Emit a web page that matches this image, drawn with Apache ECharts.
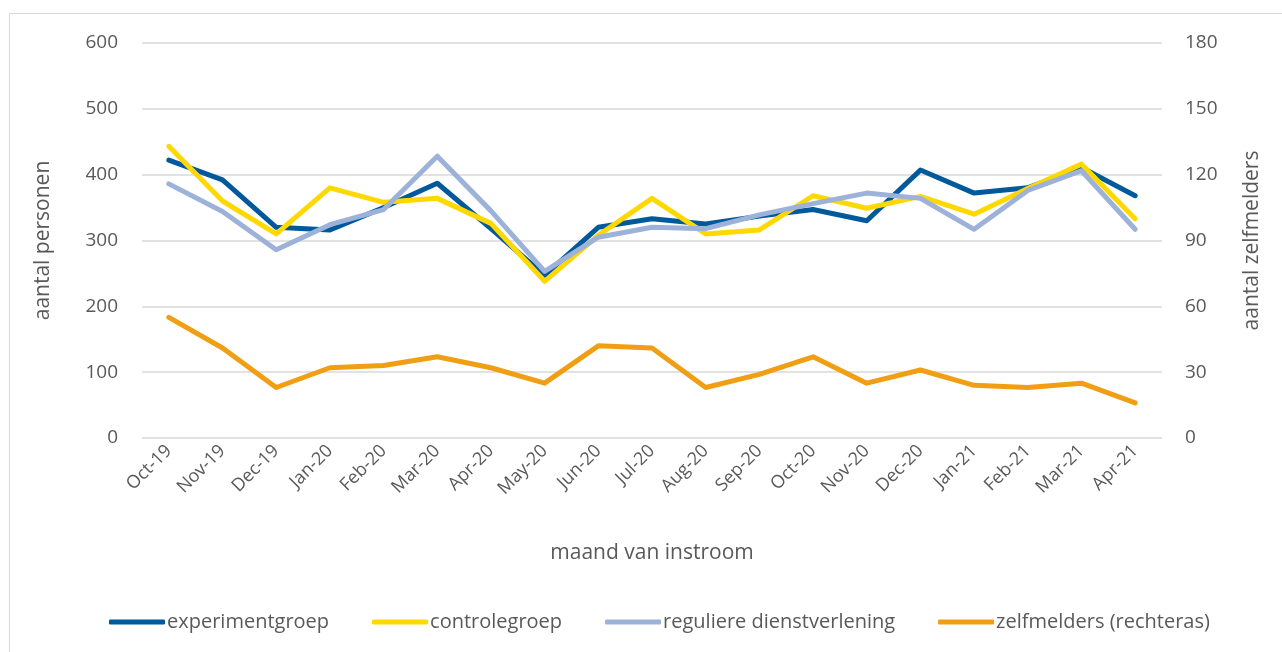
<!DOCTYPE html>
<html>
<head>
	<meta charset="UTF-8">
	<title>instroom per maand</title>
	<style>
		html, body { margin: 0; padding: 0; background: #fff; }
		#main { width: 1282px; height: 652px; }
	</style>
</head>
<body>
	<div id="main"></div>
	<script src="https://cdn.jsdelivr.net/npm/echarts@6/dist/echarts.min.js"></script>
	<script type="text/javascript">
		// maanden
		var maanden = ['Oct-19', 'Nov-19', 'Dec-19', 'Jan-20', 'Feb-20', 'Mar-20', 'Apr-20', 'May-20', 'Jun-20', 'Jul-20',
			'Aug-20', 'Sep-20', 'Oct-20', 'Nov-20', 'Dec-20', 'Jan-21', 'Feb-21', 'Mar-21', 'Apr-21'];

		var experimentgroep = [422, 392, 320, 316, 350, 387, 318, 247, 320, 333, 325, 337, 347, 330, 407, 372, 380, 411, 368];
		var controlegroep = [443, 360, 310, 380, 358, 364, 326, 238, 308, 364, 310, 316, 368, 349, 367, 340, 379, 416, 333];
		var regulier = [386, 344, 286, 324, 347, 428, 345, 253, 305, 320, 318, 339, 356, 372, 364, 317, 376, 406, 317];
		// rechteras
		var zelfmelders = [55, 41, 23, 32, 33, 37, 32, 25, 42, 41, 23, 29, 37, 25, 31, 24, 23, 25, 16];

		var font = 'Open Sans';
		var grijs = '#595959';

		var chart = echarts.init(document.getElementById('main'));

		function lijn(naam, data, kleur, as) {
			return {
				name: naam,
				type: 'line',
				data: data,
				yAxisIndex: as,
				symbol: 'none',
				color: kleur,
				lineStyle: { width: 5, color: kleur, cap: 'round', join: 'round' }
			};
		}

		var option = {
			animation: false,
			textStyle: { fontFamily: font },
			graphic: [{
				type: 'rect',
				shape: { x: 9.5, y: 13.5, width: 1290, height: 700 },
				style: { fill: 'none', stroke: '#d9d9d9', lineWidth: 1 },
				silent: true
			}],
			grid: { left: 142, right: 120, top: 43, bottom: 214 },
			legend: {
				bottom: 15,
				left: 104,
				icon: 'roundRect',
				itemWidth: 56,
				itemHeight: 5,
				itemGap: 43,
				textStyle: { fontFamily: font, fontSize: 20, color: grijs, padding: [0, 0, 0, -3] },
				data: ['experimentgroep', 'controlegroep', 'reguliere dienstverlening', 'zelfmelders (rechteras)']
			},
			xAxis: {
				type: 'category',
				data: maanden,
				name: 'maand van instroom',
				nameLocation: 'middle',
				nameGap: 105,
				nameTextStyle: { fontFamily: font, fontSize: 21, color: grijs },
				axisLine: { show: false },
				axisTick: { show: false },
				axisLabel: { rotate: 45, fontSize: 18, color: grijs, margin: 10, fontFamily: font }
			},
			yAxis: [{
				type: 'value',
				min: 0,
				max: 600,
				interval: 100,
				name: 'aantal personen',
				nameLocation: 'middle',
				nameGap: 88,
				nameTextStyle: { fontFamily: font, fontSize: 21, color: grijs },
				axisLabel: { fontSize: 19, color: grijs, margin: 24, fontFamily: font },
				splitLine: { lineStyle: { color: '#d9d9d9', width: 1.5 } }
			}, {
				type: 'value',
				min: 0,
				max: 180,
				interval: 30,
				name: 'aantal zelfmelders',
				nameLocation: 'middle',
				nameGap: 80,
				nameTextStyle: { fontFamily: font, fontSize: 21, color: grijs },
				axisLabel: { fontSize: 19, color: grijs, margin: 23, fontFamily: font },
				splitLine: { show: false }
			}],
			series: [
				lijn('experimentgroep', experimentgroep, '#00599b', 0),
				lijn('controlegroep', controlegroep, '#ffd800', 0),
				lijn('reguliere dienstverlening', regulier, '#9db2d9', 0),
				lijn('zelfmelders (rechteras)', zelfmelders, '#f09f14', 1)
			]
		};

		chart.setOption(option);
	</script>
</body>
</html>
